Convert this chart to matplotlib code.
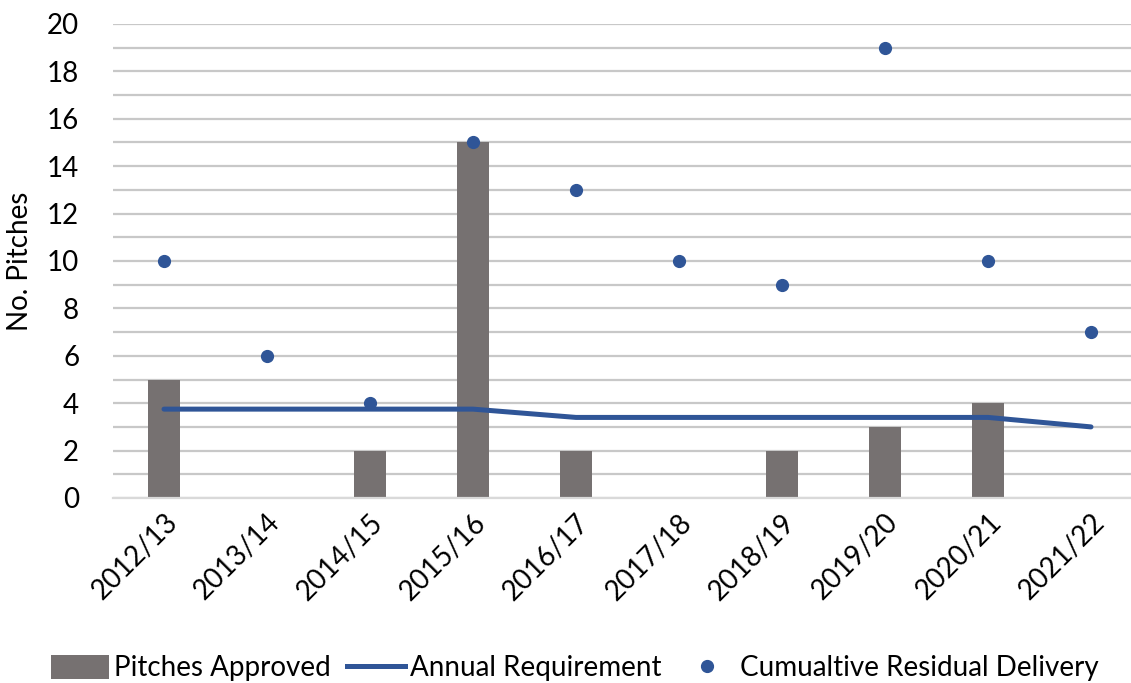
import matplotlib
matplotlib.use("Agg")
import matplotlib.pyplot as plt
from matplotlib.lines import Line2D
from matplotlib.patches import Patch
import numpy as np

years = ["2012/13", "2013/14", "2014/15", "2015/16", "2016/17",
         "2017/18", "2018/19", "2019/20", "2020/21", "2021/22"]
pitches_approved = [5, 0, 2, 15, 2, 0, 2, 3, 4, 0]
annual_requirement = [3.75, 3.75, 3.75, 3.75, 3.4, 3.4, 3.4, 3.4, 3.4, 3.0]
cumulative_residual = [10, 6, 4, 15, 13, 10, 9, 19, 10, 7]

BAR = "#767171"
BLUE = "#2F5597"
GRID = "#C8C8C8"

plt.rcParams["font.family"] = ["Lato", "DejaVu Sans"]

W, H = 1131, 683
fig = plt.figure(figsize=(W / 100, H / 100), dpi=100)
left, right, bottom, top = 112.5, 1131, 498, 24
ax = fig.add_axes([left / W, 1 - bottom / H, (right - left) / W, (bottom - top) / H])

x = np.arange(len(years))
step = 103.0
ax.set_xlim(-0.5, -0.5 + (right - left) / step)
ax.set_ylim(0, 20)

ax.bar(x, pitches_approved, width=0.32, color=BAR, zorder=2)
ax.plot(x, annual_requirement, color=BLUE, lw=3.6, solid_capstyle="round", zorder=3)
ax.plot(x, cumulative_residual, "o", color=BLUE, ms=8.5, zorder=4)

ax.set_yticks(np.arange(0, 21, 2))
ax.set_yticks(np.arange(0, 21, 1), minor=True)
ax.tick_params(axis="y", which="both", length=0, labelsize=20, pad=24)
ax.grid(axis="y", which="both", color=GRID, lw=1.6, zorder=0)
ax.set_xticks(x)
ax.set_xticklabels(years, rotation=45, ha="right", rotation_mode="anchor", fontsize=20)
ax.tick_params(axis="x", length=0, pad=8)
for s in ["top", "right", "left"]:
    ax.spines[s].set_visible(False)
ax.spines["bottom"].set_color("#D9D9D9")
ax.spines["bottom"].set_linewidth(1.6)
ax.set_axisbelow(True)

ax.set_ylabel("No. Pitches", fontsize=20)
ax.yaxis.set_label_coords(-79.5 / (right - left), 0.5)

handles = [
    Patch(facecolor=BAR, edgecolor="none"),
    Line2D([], [], color=BLUE, lw=3.6),
    Line2D([], [], marker="o", ls="none", color=BLUE, ms=8.5),
]
labels = ["Pitches Approved", "Annual Requirement", "Cumualtive Residual Delivery"]
fig.legend(handles, labels, loc="center", bbox_to_anchor=(575 / W, 1 - 668 / H),
           ncol=3, frameon=False, fontsize=20, handlelength=2.1, handleheight=1.0,
           handletextpad=0.15, columnspacing=0.6, borderaxespad=0)

fig.savefig("out.png", dpi=100)
